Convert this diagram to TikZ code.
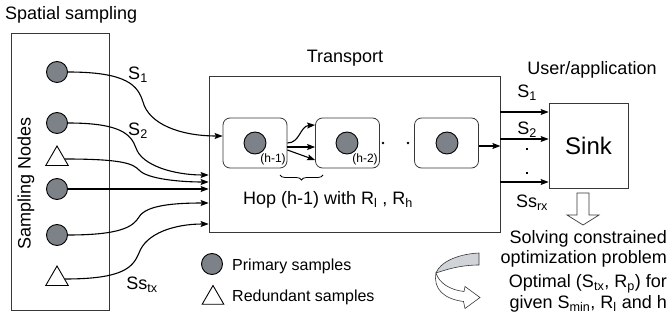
\documentclass[tikz,border=0pt]{standalone}
\usepackage{fontspec}
\setmainfont{Liberation Sans}
\usetikzlibrary{arrows.meta,decorations.pathreplacing,shapes.geometric}
\definecolor{primfill}{RGB}{125,130,137}
\definecolor{bandgray}{RGB}{208,211,216}
\definecolor{edgegray}{RGB}{55,55,55}
\begin{document}
\begin{tikzpicture}[x=1pt,y=-1pt,
  lbl/.style={font=\fontsize{18}{20}\selectfont, inner sep=0pt},
  leg/.style={font=\fontsize{16}{18}\selectfont, inner sep=0pt},
  small/.style={font=\fontsize{12}{12}\selectfont, inner sep=0pt},
  prim/.style={circle,draw=black,fill=primfill,line width=0.9pt,minimum size=21pt,inner sep=0pt},
  redund/.style={regular polygon,regular polygon sides=3,draw=black,fill=white,line width=0.9pt,minimum size=26pt,inner sep=0pt},
  frame/.style={draw=edgegray,line width=0.8pt,inner sep=0pt},
  hopbox/.style={draw=edgegray,line width=0.8pt,rounded corners=7pt,minimum width=64pt,minimum height=50pt,inner sep=0pt},
  conn/.style={line width=1.1pt,-{Stealth[length=8pt,width=6pt,inset=1.5pt]}},
  dotnode/.style={circle,fill=black,inner sep=0pt,minimum size=2.6pt},
]
\useasboundingbox (0,0) rectangle (668,320);

% ---------- spatial sampling ----------
\node[frame, minimum width=98pt, minimum height=277pt] (sbox) at (60,171.5) {};
\node[lbl, anchor=west] (title) at (5,15) {Spatial sampling};
\node[lbl, rotate=90] (snodes) at (26,183) {Sampling Nodes};
\node[prim] (c1) at (57,72) {};
\node[prim] (c2) at (57,123) {};
\node[redund] (t1) at (57,159) {};
\node[prim] (c3) at (57,189) {};
\node[prim] (c4) at (57,235) {};
\node[redund] (t2) at (57,279) {};

% ---------- transport ----------
\node[frame, minimum width=291pt, minimum height=156pt] (tbox) at (354.5,154) {};
\node[lbl] (ttitle) at (345,58) {Transport};
\node[hopbox] (h1) at (255,143) {};
\node[hopbox] (h2) at (347.5,143) {};
\node[hopbox] (h3) at (446.5,143) {};
\node[prim, minimum size=22pt] (hc1) at (255,143) {};
\node[prim, minimum size=22pt] (hc2) at (347,143) {};
\node[prim, minimum size=22pt] (hc3) at (447,143) {};
\node[small] (lh1) at (273,159) {(h-1)};
\node[small] (lh2) at (365,159) {(h-2)};
\node[dotnode] (d1) at (383,143) {};
\node[dotnode] (d2) at (408,143) {};

\draw[conn] (h1.east) .. controls (300,143) and (300,126) .. ([yshift=18pt]h2.west);
\draw[conn] ([yshift=-4pt]h1.east) -- ([yshift=-4pt]h2.west);
\draw[conn] ([yshift=-7pt]h1.east) -- ([yshift=-17pt]h2.west);
\draw[conn] ([yshift=-3pt]h3.east) -- ([yshift=-3pt]h3.east -| tbox.east);

\coordinate (b1) at (280,175);
\coordinate (b2) at (323,175);
\draw[line width=0.8pt, decorate, decoration={brace, mirror, amplitude=5pt}] (b1) -- (b2);
\node[lbl] (hop) at (328,200) {Hop (h-1) with R\textsubscript{l} , R\textsubscript{h}};

% ---------- connectors from sampling nodes ----------
\coordinate (e2) at (0,175);
\coordinate (e3) at (0,182);
\coordinate (e5) at (0,203);
\coordinate (e6) at (0,224);
\draw[conn] (c1.east) .. controls (128,72) and (138,86) .. (143,102)
  .. controls (149,124) and (180,136) .. ([yshift=7pt]h1.west);
\draw[conn] (c2.east) .. controls (120,123) and (131,134) .. (136,148)
  .. controls (142,166) and (175,175) .. (tbox.west |- e2);
\draw[conn] (t1.east) .. controls (124,159) and (133,164) .. (139,170)
  .. controls (147,179) and (180,182) .. (tbox.west |- e3);
\draw[conn] (c3.east) -- (c3 -| tbox.west);
\draw[conn] (c4.east) .. controls (120,235) and (133,227) .. (139,217)
  .. controls (146,205) and (175,203) .. (tbox.west |- e5);
\draw[conn] (t2.east) .. controls (124,279) and (133,267) .. (139,253)
  .. controls (146,233) and (175,224) .. (tbox.west |- e6);
\node[lbl] (s1l) at (138,75) {S\textsubscript{1}};
\node[lbl] (s2l) at (138,131) {S\textsubscript{2}};
\node[lbl] (sstx) at (142,285) {Ss\textsubscript{tx}};

% ---------- sink ----------
\node[lbl] (ua) at (592,70) {User/application};
\node[frame, minimum width=79pt, minimum height=85pt, font=\fontsize{24}{24}\selectfont] (sink) at (588.5,145.5) {Sink};
\coordinate (o1) at (500,112);
\coordinate (o2) at (500,139);
\coordinate (o3) at (500,182);
\draw[conn] (o1) -- (o1 -| sink.west);
\draw[conn] (o2) -- (o2 -| sink.west);
\draw[conn] (o3) -- (o3 -| sink.west);
\node[lbl] (os1) at (527,93) {S\textsubscript{1}};
\node[lbl] (os2) at (527,130) {S\textsubscript{2}};
\node[dotnode, rectangle, minimum size=2.5pt] (od1) at (527,149) {};
\node[dotnode, rectangle, minimum size=2.5pt] (od2) at (527,173) {};
\node[lbl] (ssrx) at (532,203) {Ss\textsubscript{rx}};

% hollow down arrow
\draw[edgegray, line width=0.7pt, fill=white] (577,193) -- (589,193) -- (589,215) -- (599,215)
  -- (583,225) -- (567,215) -- (577,215) -- cycle;

\node[lbl, anchor=east] (sol1) at (667,239) {Solving constrained};
\node[lbl, anchor=east] (sol2) at (667,259) {optimization problem};
\node[lbl, anchor=east] (opt1) at (667,284) {Optimal (S\textsubscript{tx}, R\textsubscript{p}) for};
\node[lbl, anchor=east] (opt2) at (667,304) {given S\textsubscript{min}, R\textsubscript{l} and h};

% ---------- legend ----------
\node[prim] (lc) at (212,264) {};
\node[leg, anchor=west] (lct) at (232,266) {Primary samples};
\node[redund, minimum size=25pt] (lt) at (213,298) {};
\node[leg, anchor=west] (ltt) at (232,297) {Redundant samples};

% ---------- curved ribbon arrow ----------
\draw[edgegray, line width=0.6pt, fill=bandgray]
  (479,253) .. controls (458,254) and (440,262) .. (436,273)
  .. controls (445,270) and (460,265) .. (479,265) -- cycle;
\draw[edgegray, line width=0.6pt, fill=white]
  (436,273) .. controls (439,283) and (450,290) .. (464,291.5)
  -- (465,286.5) -- (480,297.5) -- (465,308.5) -- (463.5,301.5)
  .. controls (444,299) and (433,289) .. (436,273) -- cycle;
\end{tikzpicture}
\end{document}
